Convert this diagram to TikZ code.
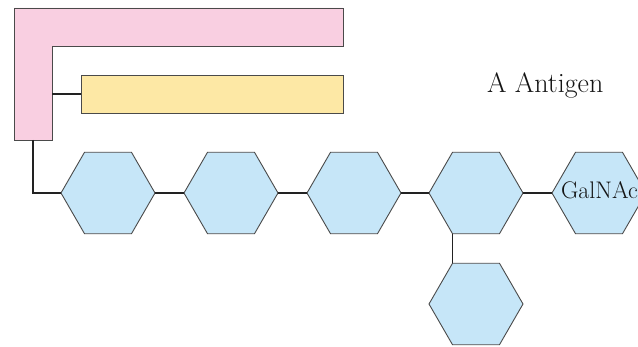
\documentclass[tikz,border=0pt]{standalone}
\usetikzlibrary{shapes.geometric}
\definecolor{pinkfill}{HTML}{F9CFE1}
\definecolor{yellowfill}{HTML}{FDE8A5}
\definecolor{bluefill}{HTML}{C6E6F8}
\definecolor{edgegray}{HTML}{4A4A4A}
\definecolor{linkcol}{HTML}{222222}
\tikzset{
  hexa/.style={regular polygon, regular polygon sides=6, minimum size=94pt,
    inner sep=0pt, outer sep=0pt, fill=bluefill, draw=edgegray, line width=0.9pt},
  bar/.style={rectangle, fill=yellowfill, draw=edgegray, line width=0.9pt,
    inner sep=0pt, outer sep=0pt},
  link/.style={draw=linkcol, line width=1.1pt},
  lbl/.style={inner sep=0pt, outer sep=0pt, text=black!92}
}
\begin{document}
\begin{tikzpicture}[x=1pt,y=-1pt]
\useasboundingbox (0,0) rectangle (638,347);
\clip (0,0) rectangle (638,347);
% pink L shape
\draw[fill=pinkfill, draw=edgegray, line width=0.9pt]
  (14,8) -- (343,8) -- (343,46) -- (52,46) -- (52,140) -- (14,140) -- cycle;
\coordinate (pinkin) at (52,94);
\coordinate (pinkbot) at (33,140);
% yellow bar
\node[bar, minimum width=262pt, minimum height=38pt] (ybar) at (212,94) {};
% hexagons
\node[hexa] (h1) at (108,193) {};
\node[hexa] (h2) at (231,193) {};
\node[hexa] (h3) at (354,193) {};
\node[hexa] (h4) at (476,193) {};
\node[hexa] (h5) at (599,193) {};
\node[hexa] (h6) at (476,304) {};
% connectors
\draw[link] (pinkin) -- (ybar.west);
\draw[link] (pinkbot) |- (h1.west);
\draw[link] (h1.east) -- (h2.west);
\draw[link] (h2.east) -- (h3.west);
\draw[link] (h3.east) -- (h4.west);
\draw[link] (h4.east) -- (h5.west);
\draw[link] (h4.corner 4) -- (h6.corner 2);
% labels
\node[lbl, anchor=base west, font=\fontsize{28}{33}\selectfont] (title) at (487,93) {A Antigen};
\node[lbl, anchor=base west, font=\fontsize{24}{29}\selectfont] (galnac) at (561,199) {GalNAc};
\end{tikzpicture}
\end{document}
